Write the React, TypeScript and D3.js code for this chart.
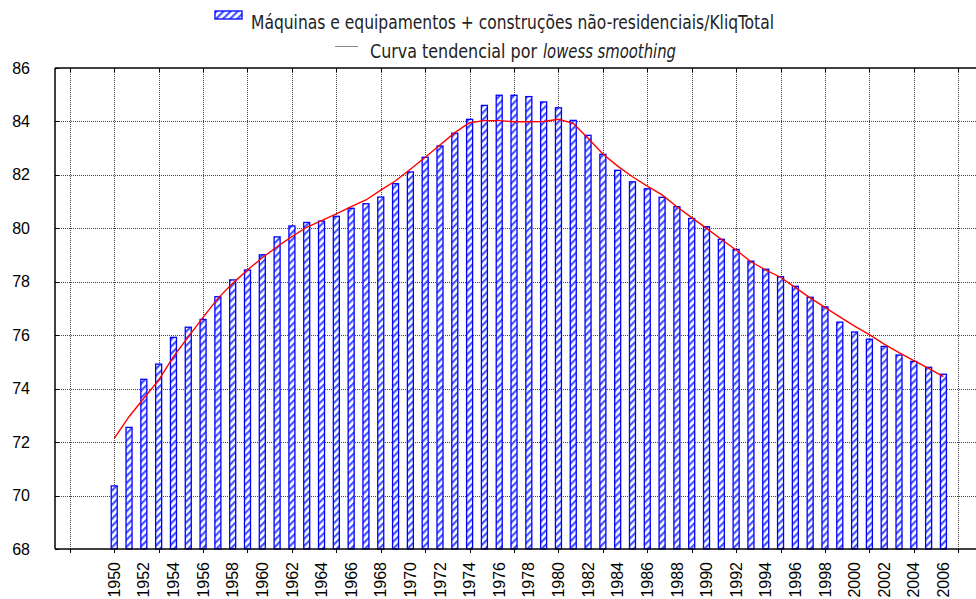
import { useRef, useEffect } from "react";
import * as d3 from "d3";

/** anos das barras */
const years = d3.range(1950, 2007);

/** valores observados (barras) */
const kliqValues = [
  70.36, 72.55, 74.35, 74.92, 75.92, 76.3, 76.59, 77.44, 78.07, 78.44,
  79.01, 79.68, 80.09, 80.22, 80.27, 80.45, 80.75, 80.92, 81.17, 81.67,
  82.11, 82.66, 83.08, 83.56, 84.08, 84.6, 84.98, 84.98, 84.93, 84.73,
  84.51, 84.04, 83.48, 82.77, 82.17, 81.74, 81.48, 81.16, 80.81, 80.37,
  80.06, 79.59, 79.21, 78.77, 78.47, 78.19, 77.83, 77.42, 77.06, 76.49,
  76.12, 75.85, 75.58, 75.26, 75.02, 74.8, 74.54,
];

/** curva tendencial (lowess) */
const lowessValues = [
  72.14, 72.95, 73.64, 74.32, 75.2, 75.94, 76.67, 77.38, 77.94, 78.44,
  78.9, 79.31, 79.69, 80.04, 80.29, 80.54, 80.81, 81.06, 81.43, 81.78,
  82.21, 82.66, 83.12, 83.58, 83.95, 84.03, 84.03, 83.99, 83.99, 84.0,
  84.08, 83.93, 83.37, 82.78, 82.33, 81.93, 81.58, 81.25, 80.81, 80.4,
  80.0, 79.59, 79.19, 78.75, 78.44, 78.17, 77.78, 77.4, 77.04, 76.69,
  76.34, 76.02, 75.67, 75.35, 75.05, 74.76, 74.45,
];

const yTicks = [68, 70, 72, 74, 76, 78, 80, 82, 84, 86];
const xGridYears = d3.range(1947, 2008, 3);
const xLabelYears = d3.range(1950, 2007, 2);

const W = 976;
const H = 599;

const App = () => {
  const ref = useRef<SVGSVGElement | null>(null);

  useEffect(() => {
    document.body.style.margin = "0";
    const svg = d3.select(ref.current);
    svg.selectAll("*").remove();

    const x = d3.scaleLinear().domain([1946, 2008.2]).range([55, 976]);
    const y = d3.scaleLinear().domain([68, 86]).range([549, 68]);
    const [x0, x1] = x.range();
    const [yb, yt] = y.range();

    // padrão hachurado das barras
    const defs = svg.append("defs");
    const pat = defs
      .append("pattern")
      .attr("id", "hatch")
      .attr("patternUnits", "userSpaceOnUse")
      .attr("width", 5)
      .attr("height", 5)
      .attr("patternTransform", "rotate(45)");
    pat.append("rect").attr("width", 5).attr("height", 5).attr("fill", "#ffffff");
    pat
      .append("rect")
      .attr("width", 2.2)
      .attr("height", 5)
      .attr("fill", "#4455ff");

    // grade
    const grid = svg.append("g").attr("stroke", "#444").attr("stroke-dasharray", "1,1").attr("stroke-width", 1);
    grid
      .selectAll("line.h")
      .data(yTicks.filter((d) => d > 68 && d < 86))
      .join("line")
      .attr("x1", x0)
      .attr("x2", x1)
      .attr("y1", (d) => Math.round(y(d)) + 0.5)
      .attr("y2", (d) => Math.round(y(d)) + 0.5);
    grid
      .selectAll("line.v")
      .data(xGridYears)
      .join("line")
      .attr("x1", (d) => Math.round(x(d)) + 0.5)
      .attr("x2", (d) => Math.round(x(d)) + 0.5)
      .attr("y1", yt)
      .attr("y2", yb);

    // barras
    const bw = 6;
    svg
      .append("g")
      .selectAll("rect")
      .data(years)
      .join("rect")
      .attr("x", (d) => x(d) - bw / 2)
      .attr("width", bw)
      .attr("y", (d, i) => y(kliqValues[i]))
      .attr("height", (d, i) => yb - y(kliqValues[i]))
      .attr("fill", "url(#hatch)")
      .attr("stroke", "#0000ff")
      .attr("stroke-width", 1.3);

    // curva lowess
    const line = d3
      .line<number>()
      .x((d, i) => x(years[i]))
      .y((d) => y(d));
    svg
      .append("path")
      .attr("d", line(lowessValues))
      .attr("fill", "none")
      .attr("stroke", "#ff0000")
      .attr("stroke-width", 1.4);

    // eixos
    const axis = svg.append("g").attr("stroke", "#000").attr("stroke-width", 1.5);
    axis.append("line").attr("x1", x0).attr("x2", x1).attr("y1", yb).attr("y2", yb);
    axis.append("line").attr("x1", x0).attr("x2", x1).attr("y1", yt).attr("y2", yt);
    axis.append("line").attr("x1", x0).attr("x2", x0).attr("y1", yt).attr("y2", yb);
    const ticks = svg.append("g").attr("stroke", "#000").attr("stroke-width", 1);
    ticks
      .selectAll("line.b")
      .data(xGridYears)
      .join("line")
      .attr("x1", (d) => Math.round(x(d)) + 0.5)
      .attr("x2", (d) => Math.round(x(d)) + 0.5)
      .attr("y1", yb)
      .attr("y2", yb + 4);
    ticks
      .selectAll("line.t")
      .data(xGridYears)
      .join("line")
      .attr("class", "t")
      .attr("x1", (d) => Math.round(x(d)) + 0.5)
      .attr("x2", (d) => Math.round(x(d)) + 0.5)
      .attr("y1", yt)
      .attr("y2", yt + 4);
    ticks
      .selectAll("line.l")
      .data(yTicks)
      .join("line")
      .attr("x1", x0)
      .attr("x2", x0 + 4)
      .attr("y1", (d) => Math.round(y(d)) + 0.5)
      .attr("y2", (d) => Math.round(y(d)) + 0.5);

    // rótulos
    svg
      .append("g")
      .attr("font-family", "'Liberation Sans', Arial, sans-serif")
      .attr("font-size", 16)
      .attr("fill", "#000")
      .selectAll("text")
      .data(yTicks)
      .join("text")
      .attr("x", 30)
      .attr("y", (d) => y(d))
      .attr("dy", "0.35em")
      .attr("text-anchor", "end")
      .text((d) => d);

    svg
      .append("g")
      .attr("font-family", "'Liberation Sans', Arial, sans-serif")
      .attr("font-size", 16)
      .attr("fill", "#000")
      .selectAll("text")
      .data(xLabelYears)
      .join("text")
      .attr("transform", (d) => `translate(${x(d)},562) rotate(-90)`)
      .attr("dy", "0.35em")
      .attr("text-anchor", "end")
      .text((d) => d);

    // legenda
    const leg = svg
      .append("g")
      .attr("font-family", "'Liberation Sans Narrow', 'DejaVu Sans Condensed', sans-serif")
      .attr("font-size", 19)
      .attr("fill", "#222");
    leg
      .append("rect")
      .attr("x", 215)
      .attr("y", 11)
      .attr("width", 27)
      .attr("height", 8)
      .attr("fill", "url(#hatch)")
      .attr("stroke", "#0000ff")
      .attr("stroke-width", 1.3);
    leg
      .append("text")
      .attr("x", 251)
      .attr("y", 29)
      .attr("textLength", 523)
      .attr("lengthAdjust", "spacingAndGlyphs")
      .text("Máquinas e equipamentos + construções não-residenciais/KliqTotal");
    leg
      .append("line")
      .attr("x1", 335)
      .attr("x2", 358)
      .attr("y1", 46.5)
      .attr("y2", 46.5)
      .attr("stroke", "#888")
      .attr("stroke-width", 1);
    leg
      .append("text")
      .attr("x", 370)
      .attr("y", 58)
      .attr("textLength", 167)
      .attr("lengthAdjust", "spacingAndGlyphs")
      .text("Curva tendencial por");
    leg
      .append("text")
      .attr("x", 543)
      .attr("y", 58)
      .attr("font-style", "italic")
      .attr("textLength", 133)
      .attr("lengthAdjust", "spacingAndGlyphs")
      .text("lowess smoothing");
  }, []);

  return (
    <div style={{ position: "absolute", left: 0, top: 0 }}>
      <svg ref={ref} width={W} height={H} />
    </div>
  );
};

export default App;
